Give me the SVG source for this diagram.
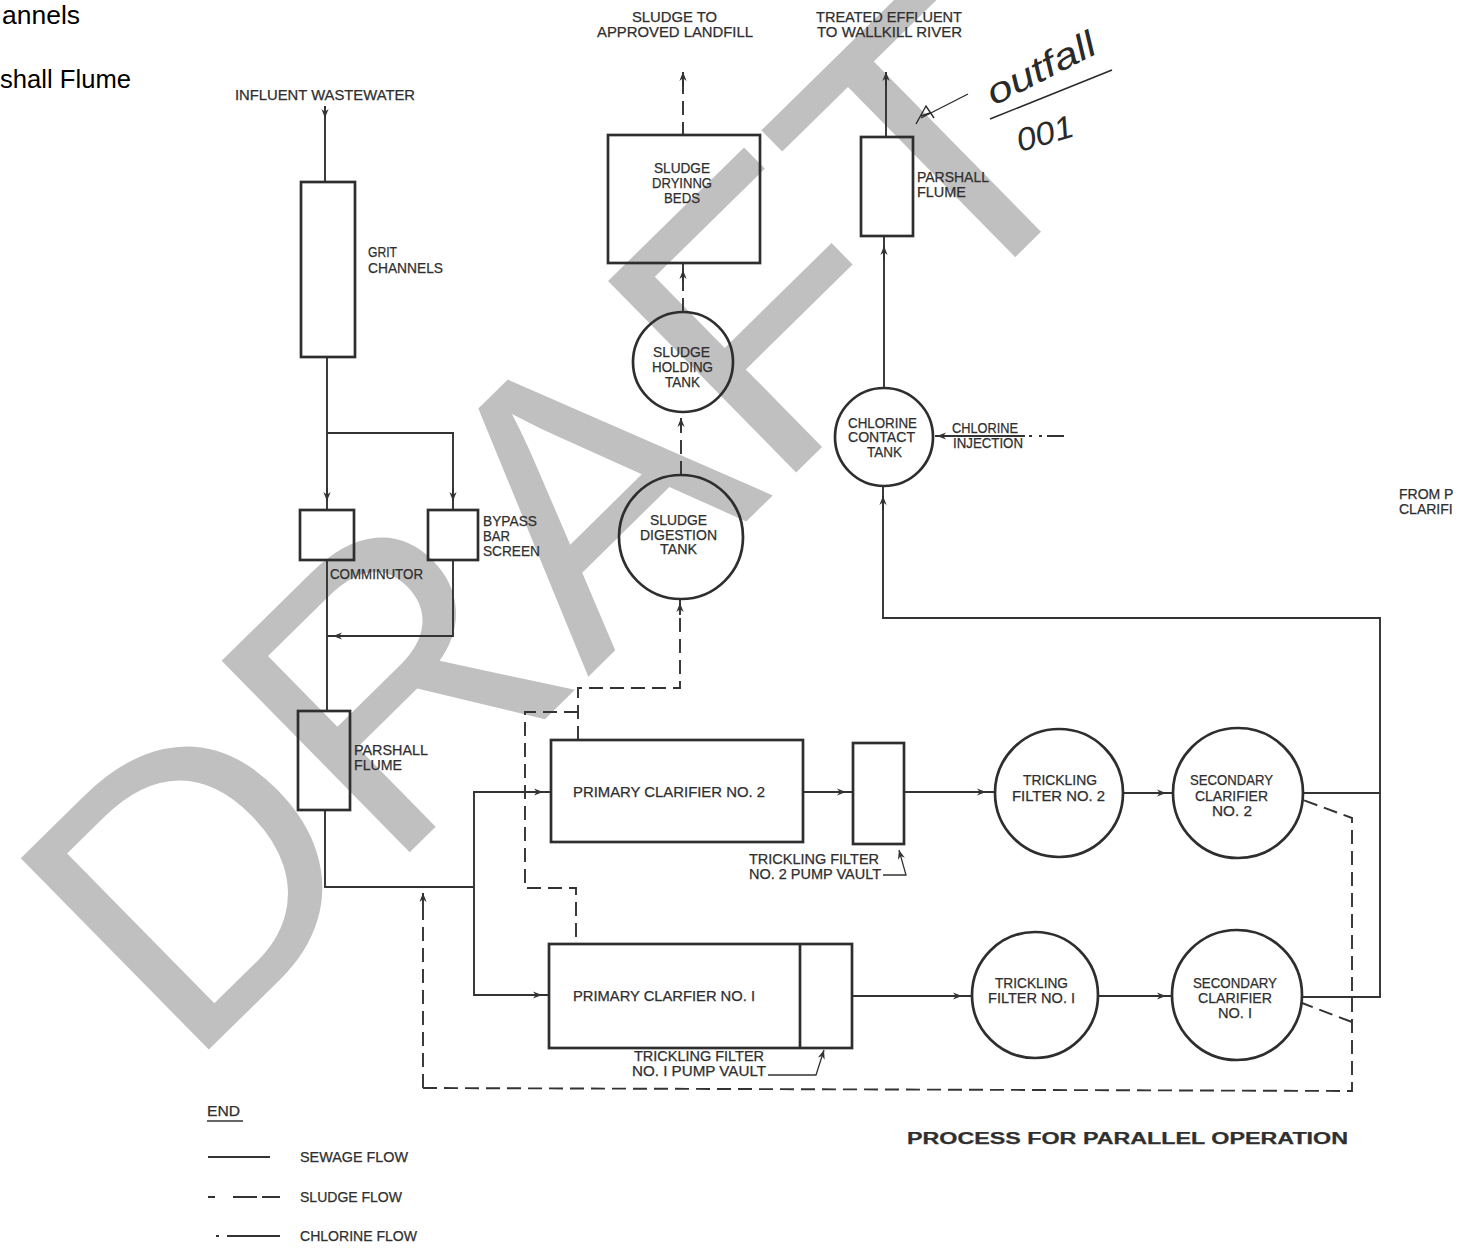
<svg xmlns="http://www.w3.org/2000/svg" width="1459" height="1250" viewBox="0 0 1459 1250">
<style>
.ln{stroke:#333;stroke-width:1.9;fill:none}
.d{stroke-dasharray:14 7}
.bx{stroke:#2e2e2e;stroke-width:2.7;fill:none}
.t{font-family:"Liberation Sans",Arial,sans-serif;font-size:14px;fill:#2f2f2f;stroke:#2f2f2f;stroke-width:0.25}
.hw{font-family:"Liberation Sans",Arial,sans-serif;font-style:italic;fill:#2a2a2a}
.wm{font-family:"Liberation Sans",Arial,sans-serif;font-size:390px;fill:#c0c0c0}
.pg{font-family:"Liberation Sans",Arial,sans-serif;font-size:25px;fill:#000}
</style>
<defs>
<marker id="ah" viewBox="0 0 10 10" refX="10" refY="5" markerWidth="10" markerHeight="9" markerUnits="userSpaceOnUse" orient="auto"><path d="M0,1 L10,5 L0,9 L3,5 z" fill="#333"/></marker>
</defs>
<rect width="1459" height="1250" fill="#ffffff"/>
<g id="watermark"><text class="wm" transform="translate(186,1072) rotate(-44.5)">DRAFT</text></g>
<g id="page-fragments">
<text class="pg" x="2" y="24" textLength="78" lengthAdjust="spacingAndGlyphs">annels</text>
<text class="pg" x="0" y="88" textLength="131" lengthAdjust="spacingAndGlyphs">shall Flume</text>
</g>
<g id="connectors">
<path class="ln" d="M325,106 V182"/>
<path class="ln" d="M327,357 V510"/>
<path class="ln" d="M327,433 H453 V510"/>
<path class="ln" d="M453,561 V636 H327"/>
<path class="ln" d="M327,560 V711"/>
<path class="ln" d="M325,810 V887 H474"/>
<path class="ln" d="M474,887 V792 H551"/>
<path class="ln" d="M474,887 V995 H549"/>
<path class="ln" d="M803,792 H853"/>
<path class="ln" d="M904,792 H996"/>
<path class="ln" d="M1123,793 H1173"/>
<path class="ln" d="M1303,793 H1380"/>
<path class="ln" d="M852,996 H972"/>
<path class="ln" d="M1098,996 H1173"/>
<path class="ln" d="M1302,997 H1380 V618 H883 V487"/>
<path class="ln" d="M884,388 V236"/>
<path class="ln" d="M886,137 V72"/>
<path class="ln" d="M1025,436 H935"/>
<path class="ln" d="M1029,436 H1032 M1039,436 H1042 M1047,436 H1064"/>
<path class="ln" d="M325,106 V118" marker-end="url(#ah)"/>
<path class="ln" d="M327,488 V501" marker-end="url(#ah)"/>
<path class="ln" d="M453,488 V501" marker-end="url(#ah)"/>
<path class="ln" d="M347,636 H333" marker-end="url(#ah)"/>
<path class="ln" d="M528,792 H543" marker-end="url(#ah)"/>
<path class="ln" d="M527,995 H542" marker-end="url(#ah)"/>
<path class="ln" d="M832,792 H846" marker-end="url(#ah)"/>
<path class="ln" d="M972,792 H986" marker-end="url(#ah)"/>
<path class="ln" d="M1152,793 H1166" marker-end="url(#ah)"/>
<path class="ln" d="M948,996 H962" marker-end="url(#ah)"/>
<path class="ln" d="M1152,996 H1166" marker-end="url(#ah)"/>
<path class="ln" d="M883,510 V496" marker-end="url(#ah)"/>
<path class="ln" d="M884,260 V246" marker-end="url(#ah)"/>
<path class="ln" d="M886,86 V72" marker-end="url(#ah)"/>
<path class="ln" d="M950,436 H937" marker-end="url(#ah)"/>
<path class="ln d" d="M423,1088 V893"/>
<path class="ln d" d="M423,1088 L1352,1091 V818 L1303,800"/>
<path class="ln d" d="M1352,1022 L1302,1003"/>
<path class="ln d" d="M578,740 V688 H680 V599"/>
<path class="ln d" d="M578,712 H525 V888 H576 V944"/>
<path class="ln d" d="M681,475 V412"/>
<path class="ln d" d="M683,312 V263"/>
<path class="ln d" d="M683,136 V72"/>
<path class="ln" d="M423,906 V893" marker-end="url(#ah)"/>
<path class="ln" d="M680,615 V603" marker-end="url(#ah)"/>
<path class="ln" d="M681,430 V418" marker-end="url(#ah)"/>
<path class="ln" d="M683,282 V270" marker-end="url(#ah)"/>
<path class="ln" d="M683,86 V72" marker-end="url(#ah)"/>
<path class="ln" style="stroke-width:1.3" d="M883,875 H906 L899,850" marker-end="url(#ah)"/>
<path class="ln" style="stroke-width:1.3" d="M768,1075 H816 L824,1050" marker-end="url(#ah)"/>
</g>
<g id="influent"><text class="t" x="235" y="100" textLength="180" lengthAdjust="spacingAndGlyphs">INFLUENT WASTEWATER</text></g>
<g id="grit-channels"><rect class="bx" x="301" y="182" width="54" height="175"/>
<text class="t" x="368" y="257" textLength="29" lengthAdjust="spacingAndGlyphs">GRIT</text>
<text class="t" x="368" y="273" textLength="75" lengthAdjust="spacingAndGlyphs">CHANNELS</text></g>
<g id="comminutor"><rect class="bx" x="300" y="510" width="54" height="50"/>
<text class="t" x="330" y="579" textLength="93" lengthAdjust="spacingAndGlyphs">COMMINUTOR</text></g>
<g id="bypass-bar-screen"><rect class="bx" x="428" y="510" width="50" height="50"/>
<text class="t" x="483" y="526" textLength="54" lengthAdjust="spacingAndGlyphs">BYPASS</text>
<text class="t" x="483" y="541" textLength="27" lengthAdjust="spacingAndGlyphs">BAR</text>
<text class="t" x="483" y="556" textLength="57" lengthAdjust="spacingAndGlyphs">SCREEN</text></g>
<g id="parshall-flume-1"><rect class="bx" x="298" y="711" width="52" height="99"/>
<text class="t" x="354" y="755" textLength="74" lengthAdjust="spacingAndGlyphs">PARSHALL</text>
<text class="t" x="354" y="770" textLength="48" lengthAdjust="spacingAndGlyphs">FLUME</text></g>
<g id="sludge-landfill"><text class="t" x="632" y="22" textLength="85" lengthAdjust="spacingAndGlyphs">SLUDGE TO</text>
<text class="t" x="597" y="37" textLength="156" lengthAdjust="spacingAndGlyphs">APPROVED LANDFILL</text></g>
<g id="treated-effluent"><text class="t" x="816" y="22" textLength="146" lengthAdjust="spacingAndGlyphs">TREATED EFFLUENT</text>
<text class="t" x="817" y="37" textLength="145" lengthAdjust="spacingAndGlyphs">TO WALLKILL RIVER</text></g>
<g id="outfall-note">
<path d="M968,94 L921,118" stroke="#2a2a2a" stroke-width="1.4" fill="none"/>
<path d="M916,124 L926,106 L934,118 M921,116 L930,113" stroke="#2a2a2a" stroke-width="1.4" fill="none"/>
<path d="M990,119 L1112,70" stroke="#2a2a2a" stroke-width="1.6" fill="none"/>
<text class="hw" transform="translate(994,106) rotate(-27)" font-size="36" textLength="118" lengthAdjust="spacingAndGlyphs">outfall</text>
<text class="hw" transform="translate(1020,152) rotate(-16)" font-size="32" textLength="58" lengthAdjust="spacingAndGlyphs">001</text>
</g>
<g id="sludge-drying-beds"><rect class="bx" x="608" y="135" width="152" height="128"/>
<text class="t" x="654" y="173" textLength="56" lengthAdjust="spacingAndGlyphs">SLUDGE</text>
<text class="t" x="652" y="188" textLength="60" lengthAdjust="spacingAndGlyphs">DRYINNG</text>
<text class="t" x="664" y="203" textLength="36" lengthAdjust="spacingAndGlyphs">BEDS</text></g>
<g id="parshall-flume-2"><rect class="bx" x="861" y="137" width="52" height="99"/>
<text class="t" x="917" y="182" textLength="72" lengthAdjust="spacingAndGlyphs">PARSHALL</text>
<text class="t" x="917" y="197" textLength="49" lengthAdjust="spacingAndGlyphs">FLUME</text></g>
<g id="sludge-holding-tank"><circle class="bx" cx="683" cy="362" r="50"/>
<text class="t" x="653" y="357" textLength="57" lengthAdjust="spacingAndGlyphs">SLUDGE</text>
<text class="t" x="652" y="372" textLength="61" lengthAdjust="spacingAndGlyphs">HOLDING</text>
<text class="t" x="665" y="387" textLength="35" lengthAdjust="spacingAndGlyphs">TANK</text></g>
<g id="sludge-digestion-tank"><circle class="bx" cx="681" cy="537" r="62"/>
<text class="t" x="650" y="525" textLength="57" lengthAdjust="spacingAndGlyphs">SLUDGE</text>
<text class="t" x="640" y="540" textLength="77" lengthAdjust="spacingAndGlyphs">DIGESTION</text>
<text class="t" x="660" y="554" textLength="37" lengthAdjust="spacingAndGlyphs">TANK</text></g>
<g id="chlorine-contact-tank"><circle class="bx" cx="884" cy="437" r="49"/>
<text class="t" x="848" y="428" textLength="69" lengthAdjust="spacingAndGlyphs">CHLORINE</text>
<text class="t" x="848" y="442" textLength="67" lengthAdjust="spacingAndGlyphs">CONTACT</text>
<text class="t" x="867" y="457" textLength="35" lengthAdjust="spacingAndGlyphs">TANK</text></g>
<g id="chlorine-injection"><text class="t" x="952" y="433" textLength="66" lengthAdjust="spacingAndGlyphs">CHLORINE</text>
<text class="t" x="953" y="448" textLength="70" lengthAdjust="spacingAndGlyphs">INJECTION</text></g>
<g id="from-clarifier"><text class="t" x="1399" y="499">FROM P</text><text class="t" x="1399" y="514">CLARIFI</text></g>
<g id="primary-clarifier-2"><rect class="bx" x="551" y="740" width="252" height="102"/>
<text class="t" x="573" y="797" textLength="192" lengthAdjust="spacingAndGlyphs">PRIMARY CLARIFIER NO. 2</text></g>
<g id="pump-vault-2"><rect class="bx" x="853" y="743" width="51" height="101"/>
<text class="t" x="749" y="864" textLength="130" lengthAdjust="spacingAndGlyphs">TRICKLING FILTER</text>
<text class="t" x="749" y="879" textLength="132" lengthAdjust="spacingAndGlyphs">NO. 2 PUMP VAULT</text></g>
<g id="trickling-filter-2"><circle class="bx" cx="1059" cy="793" r="64"/>
<text class="t" x="1023" y="785" textLength="74" lengthAdjust="spacingAndGlyphs">TRICKLING</text>
<text class="t" x="1012" y="801" textLength="93" lengthAdjust="spacingAndGlyphs">FILTER NO. 2</text></g>
<g id="secondary-clarifier-2"><circle class="bx" cx="1238" cy="793" r="65"/>
<text class="t" x="1190" y="785" textLength="83" lengthAdjust="spacingAndGlyphs">SECONDARY</text>
<text class="t" x="1195" y="801" textLength="73" lengthAdjust="spacingAndGlyphs">CLARIFIER</text>
<text class="t" x="1212" y="816" textLength="40" lengthAdjust="spacingAndGlyphs">NO. 2</text></g>
<g id="primary-clarifier-1"><rect class="bx" x="549" y="944" width="303" height="104"/>
<path class="bx" d="M800,944 V1048"/>
<text class="t" x="573" y="1001" textLength="182" lengthAdjust="spacingAndGlyphs">PRIMARY CLARFIER NO. I</text>
<text class="t" x="634" y="1061" textLength="130" lengthAdjust="spacingAndGlyphs">TRICKLING FILTER</text>
<text class="t" x="632" y="1076" textLength="134" lengthAdjust="spacingAndGlyphs">NO. I PUMP VAULT</text></g>
<g id="trickling-filter-1"><circle class="bx" cx="1035" cy="995" r="63"/>
<text class="t" x="995" y="988" textLength="73" lengthAdjust="spacingAndGlyphs">TRICKLING</text>
<text class="t" x="988" y="1003" textLength="87" lengthAdjust="spacingAndGlyphs">FILTER NO. I</text></g>
<g id="secondary-clarifier-1"><circle class="bx" cx="1237" cy="995" r="65"/>
<text class="t" x="1193" y="988" textLength="84" lengthAdjust="spacingAndGlyphs">SECONDARY</text>
<text class="t" x="1198" y="1003" textLength="74" lengthAdjust="spacingAndGlyphs">CLARIFIER</text>
<text class="t" x="1218" y="1018" textLength="34" lengthAdjust="spacingAndGlyphs">NO. I</text></g>
<g id="title"><text class="t" x="907" y="1144" style="font-size:16px;font-weight:bold" textLength="441" lengthAdjust="spacingAndGlyphs">PROCESS FOR PARALLEL OPERATION</text></g>
<g id="legend">
<text class="t" x="207" y="1116" textLength="33" lengthAdjust="spacingAndGlyphs">END</text>
<path class="ln" style="stroke-width:1.4" d="M207,1121 H243"/>
<path class="ln" d="M208,1157 H270"/>
<text class="t" x="300" y="1162" textLength="108" lengthAdjust="spacingAndGlyphs">SEWAGE FLOW</text>
<path class="ln" d="M208,1197 H215 M233,1197 H257 M262,1197 H280"/>
<text class="t" x="300" y="1202" textLength="102" lengthAdjust="spacingAndGlyphs">SLUDGE FLOW</text>
<path class="ln" d="M216,1236 H219 M227,1236 H280"/>
<text class="t" x="300" y="1241" textLength="117" lengthAdjust="spacingAndGlyphs">CHLORINE FLOW</text>
</g>
</svg>
